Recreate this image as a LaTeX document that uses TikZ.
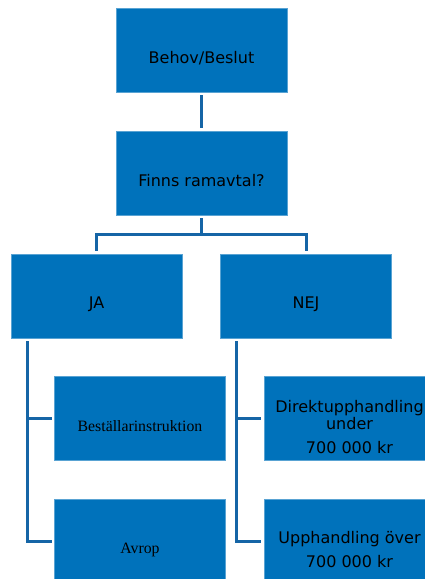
\documentclass[tikz,border=0pt]{standalone}
\usepackage{fontspec}
\setmainfont{Liberation Serif}
\newfontfamily\vfont{DejaVu Sans}
\definecolor{boxblue}{RGB}{0,114,187}
\definecolor{lineblue}{RGB}{21,101,166}
\begin{document}
\begin{tikzpicture}[x=1pt,y=-1pt,
 box/.style={fill=boxblue, draw=boxblue!65!white, line width=0.6pt, minimum width=171pt, minimum height=84pt, inner sep=0pt, outer sep=0pt},
 lbl/.style={font=\vfont\fontsize{16}{17}\selectfont, align=center, text=black, inner sep=0pt},
 slbl/.style={font=\fontsize{15.8}{18}\selectfont, text=black, inner sep=0pt},
 conn/.style={draw=lineblue, line width=3pt}]
\useasboundingbox (0,0) rectangle (425,579);
\clip (0,0) rectangle (425,579);
\node[box] (beh) at (201.5,50) {};
\node[box] (fin) at (201.5,173) {};
\node[box] (ja) at (96.5,296) {};
\node[box] (nej) at (306,296) {};
\node[box] (bes) at (140,418.5) {};
\node[box] (avr) at (140,541.5) {};
\node[box] (dir) at (349.5,418.5) {};
\node[box] (upp) at (349.5,541.5) {};
\node[lbl] (tbeh) at (201.5,58) {Behov/Beslut};
\node[lbl] (tfin) at (201.5,181) {Finns ramavtal?};
\node[lbl] (tja) at (96.5,304) {JA};
\node[lbl] (tnej) at (306,304) {NEJ};
\node[slbl] (tbes) at (140,426) {Beställarinstruktion};
\node[slbl] (tavr) at (140,550) {Avrop};
\node[lbl] (tdir) at (349.5,427) {Direktupphandling\\under\\[7pt]700 000 kr};
\node[lbl] (tupp) at (349.5,550) {Upphandling över\\[7pt]700 000 kr};
\draw[conn] ([yshift=-3pt]beh.south) -- ([yshift=3pt]fin.north);
\draw[conn] ([yshift=-3pt]fin.south) -- ++(0,16) -| ([yshift=3pt]ja.north);
\draw[conn] ([yshift=-3pt]fin.south) -- ++(0,16) -| ([yshift=3pt]nej.north);
\draw[conn] ([xshift=16pt,yshift=-3pt]ja.south west) |- ([xshift=-3pt]bes.west);
\draw[conn] ([xshift=16pt,yshift=-3pt]ja.south west) |- ([xshift=-3pt]avr.west);
\draw[conn] ([xshift=16pt,yshift=-3pt]nej.south west) |- ([xshift=-3pt]dir.west);
\draw[conn] ([xshift=16pt,yshift=-3pt]nej.south west) |- ([xshift=-3pt]upp.west);
\end{tikzpicture}
\end{document}
